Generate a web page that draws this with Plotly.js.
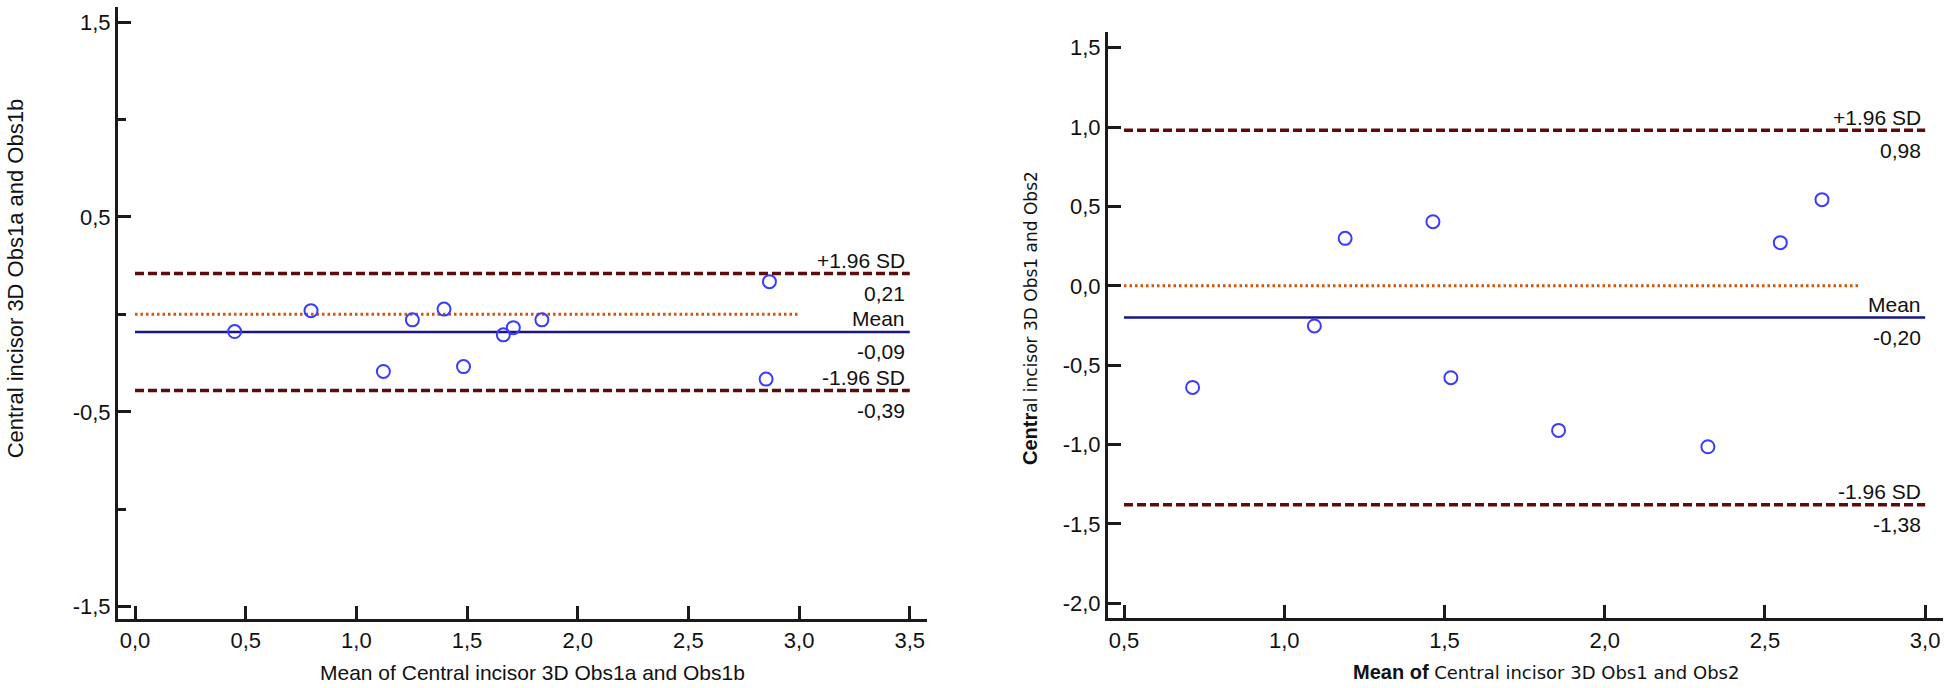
<!DOCTYPE html>
<html>
<head>
<meta charset="utf-8">
<script src="https://cdn.plot.ly/plotly-3.0.1.min.js"></script>
<style>html,body{margin:0;padding:0;background:#fff;}#chart{width:1950px;height:688px;}</style>
</head>
<body>
<div id="chart"></div>
<script>
// ---- Left chart data (Obs1a vs Obs1b) ----
const leftMeanX = [0.45, 0.795, 1.122, 1.253, 1.396, 1.484, 1.664, 1.709, 1.838, 2.866, 2.851];
const leftDiffY = [-0.088, 0.019, -0.293, -0.028, 0.027, -0.268, -0.105, -0.068, -0.028, 0.168, -0.332];
const leftUpper = 0.21, leftMean = -0.09, leftLower = -0.39;
const leftLineExtent = [0, 3.5];
const leftZeroExtent = [0, 3.0];
const leftXTicks = [0, 0.5, 1.0, 1.5, 2.0, 2.5, 3.0, 3.5];
const leftXTickText = ["0,0", "0,5", "1,0", "1,5", "2,0", "2,5", "3,0", "3,5"];
const leftYTicks = [-1.5, -0.5, 0.5, 1.5];
const leftYTickText = ["-1,5", "-0,5", "0,5", "1,5"];
const leftLabelUpper = "0,21", leftLabelMean = "-0,09", leftLabelLower = "-0,39";

// ---- Right chart data (Obs1 vs Obs2) ----
const rightMeanX = [0.714, 1.094, 1.190, 1.464, 1.520, 1.856, 2.322, 2.548, 2.678];
const rightDiffY = [-0.640, -0.253, 0.299, 0.404, -0.579, -0.911, -1.014, 0.272, 0.543];
const rightUpper = 0.98, rightMean = -0.20, rightLower = -1.38;
const rightLineExtent = [0.5, 3.0];
const rightZeroExtent = [0.5, 2.8];
const rightXTicks = [0.5, 1.0, 1.5, 2.0, 2.5, 3.0];
const rightXTickText = ["0,5", "1,0", "1,5", "2,0", "2,5", "3,0"];
const rightYTicks = [-2.0, -1.5, -1.0, -0.5, 0.0, 0.5, 1.0, 1.5];
const rightYTickText = ["-2,0", "-1,5", "-1,0", "-0,5", "0,0", "0,5", "1,0", "1,5"];
const rightLabelUpper = "0,98", rightLabelMean = "-0,20", rightLabelLower = "-1,38";

const SD_COLOR = "#5e0b0b", MEAN_COLOR = "#16168a", ZERO_COLOR = "#d2540a", PT_COLOR = "#3b3bff";
const FONT = "Liberation Sans, Arial, sans-serif";

function hline(xa, ya, ext, y, color, dash, width) {
  return {x: ext, y: [y, y], xaxis: xa, yaxis: ya, mode: "lines", hoverinfo: "skip",
          line: {color: color, dash: dash, width: width}, showlegend: false};
}

const traces = [
  hline("x", "y", leftZeroExtent, 0, ZERO_COLOR, "2.5px,3px", 3),
  hline("x", "y", leftLineExtent, leftUpper, SD_COLOR, "9px,4px", 3.5),
  hline("x", "y", leftLineExtent, leftLower, SD_COLOR, "9px,4px", 3.5),
  hline("x", "y", leftLineExtent, leftMean, MEAN_COLOR, "solid", 2.5),
  {x: leftMeanX, y: leftDiffY, xaxis: "x", yaxis: "y", mode: "markers", showlegend: false,
   marker: {symbol: "circle-open", size: 13, color: PT_COLOR, line: {width: 2, color: PT_COLOR}}},
  hline("x2", "y2", rightZeroExtent, 0, ZERO_COLOR, "2.5px,3px", 3),
  hline("x2", "y2", rightLineExtent, rightUpper, SD_COLOR, "9px,4px", 3.5),
  hline("x2", "y2", rightLineExtent, rightLower, SD_COLOR, "9px,4px", 3.5),
  hline("x2", "y2", rightLineExtent, rightMean, MEAN_COLOR, "solid", 2.5),
  {x: rightMeanX, y: rightDiffY, xaxis: "x2", yaxis: "y2", mode: "markers", showlegend: false,
   marker: {symbol: "circle-open", size: 13, color: PT_COLOR, line: {width: 2, color: PT_COLOR}}}
];

const axBase = {showline: true, linewidth: 3, linecolor: "#1a1a1a", showgrid: false, zeroline: false,
  ticks: "inside", ticklen: 13, tickwidth: 3, tickcolor: "#1a1a1a", tickmode: "array",
  tickfont: {family: FONT, size: 22, color: "#111"}, fixedrange: true};

function lineLabels(xr, yr, xEnd, top, mid, bot, vTop, vMid, vBot, shift) {
  const mk = (text, y, ys) => ({x: xEnd, y: y, xref: xr, yref: yr, text: text, showarrow: false,
    xanchor: "right", yanchor: "middle", xshift: shift, yshift: ys,
    font: {family: FONT, size: 21, color: "#111"}});
  return [
    mk("+1.96 SD", top, 13), mk(vTop, top, -20),
    mk("Mean", mid, 13), mk(vMid, mid, -20),
    mk("-1.96 SD", bot, 13), mk(vBot, bot, -20)
  ];
}

const annotations = [].concat(
  lineLabels("x", "y", leftLineExtent[1], leftUpper, leftMean, leftLower, leftLabelUpper, leftLabelMean, leftLabelLower, -3),
  lineLabels("x2", "y2", rightLineExtent[1], rightUpper, rightMean, rightLower, rightLabelUpper, rightLabelMean, rightLabelLower, -2),
  [
    {xref: "paper", yref: "paper", x: 0.0084, y: 0.596, textangle: -90, showarrow: false,
     xanchor: "center", yanchor: "middle", text: "Central incisor 3D Obs1a and Obs1b",
     font: {family: FONT, size: 22, color: "#111"}},
    {xref: "paper", yref: "paper", x: 0.2733, y: 0.022, showarrow: false,
     xanchor: "center", yanchor: "middle", text: "Mean of Central incisor 3D Obs1a and Obs1b",
     font: {family: FONT, size: 21, color: "#111"}},
    {xref: "paper", yref: "paper", x: 0.5282, y: 0.5378, textangle: -90, showarrow: false,
     xanchor: "center", yanchor: "middle",
     text: "<b>Centr</b><span style=\"font-family:'DejaVu Sans';font-size:17px\">al incisor 3D Obs1 and Obs2</span>",
     font: {family: FONT, size: 20, color: "#111"}},
    {xref: "paper", yref: "paper", x: 0.7928, y: 0.023, showarrow: false,
     xanchor: "center", yanchor: "middle",
     text: "<b>Mean of</b> <span style=\"font-family:'DejaVu Sans';font-size:18px\">Central incisor 3D Obs1 and Obs2</span>",
     font: {family: FONT, size: 20, color: "#111"}}
  ]
);

const layout = {
  width: 1950, height: 688, margin: {l: 0, r: 0, t: 0, b: 0},
  paper_bgcolor: "#fff", plot_bgcolor: "#fff", showlegend: false,
  xaxis: Object.assign({}, axBase, {domain: [0.0605, 0.4754], range: [-0.077, 3.578],
    tickvals: leftXTicks, ticktext: leftXTickText, anchor: "y"}),
  yaxis: Object.assign({}, axBase, {domain: [0.1003, 0.9898], range: [-1.563, 1.577],
    tickvals: leftYTicks, ticktext: leftYTickText, anchor: "x",
    minor: {tickmode: "linear", tick0: 0, dtick: 1, ticks: "inside", ticklen: 8, tickwidth: 3, tickcolor: "#1a1a1a", showgrid: false}}),
  xaxis2: Object.assign({}, axBase, {domain: [0.5682, 0.9963], range: [0.45, 3.055],
    tickvals: rightXTicks, ticktext: rightXTickText, anchor: "y2"}),
  yaxis2: Object.assign({}, axBase, {domain: [0.1013, 0.9539], range: [-2.095, 1.601],
    tickvals: rightYTicks, ticktext: rightYTickText, anchor: "x2"}),
  annotations: annotations
};

Plotly.newPlot("chart", traces, layout, {displayModeBar: false, staticPlot: true});
</script>
</body>
</html>
